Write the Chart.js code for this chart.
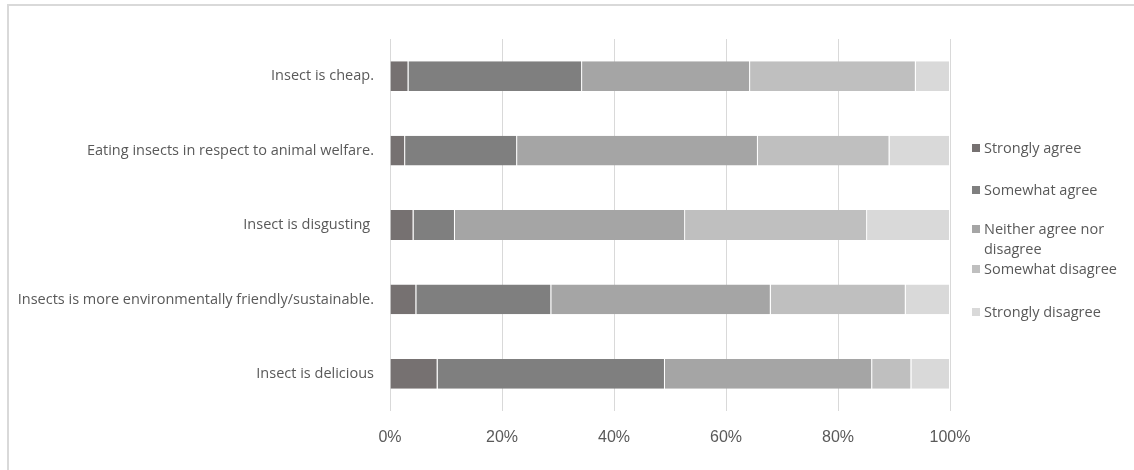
<!DOCTYPE html>
<html>
<head>
<meta charset="utf-8">
<script src="https://cdn.jsdelivr.net/npm/chart.js@4"></script>
<style>
	html, body { margin: 0; padding: 0; background: #fff; overflow: hidden; }
	#wrap { position: relative; width: 1134px; height: 470px; }
	#frame { position: absolute; left: 7px; top: 4px; width: 1140px; height: 480px; border-top: 2px solid #d9d9d9; border-left: 2px solid #d9d9d9; box-sizing: border-box; }
	#survey-chart { position: absolute; left: 0; top: 0; }
	#legend { position: absolute; left: 0; top: 0; font-family: "Open Sans", sans-serif; font-size: 14.5px; color: #595959; }
	#legend .item { position: absolute; left: 972px; width: 160px; line-height: 20px; padding-left: 12px; white-space: nowrap; }
	#legend .box { position: absolute; left: 0; top: 6px; width: 8px; height: 8px; }
</style>
</head>
<body>
<div id="wrap">
	<div id="frame"></div>
	<canvas id="survey-chart" width="1134" height="470"></canvas>
	<div id="legend"></div>
</div>
<script>
const categories = [
	"Insect is cheap.",
	"Eating insects in respect to animal welfare.",
	"Insect is disgusting ",
	"Insects is more environmentally friendly/sustainable.",
	"Insect is delicious",
];
const seriesNames = ["Strongly agree", "Somewhat agree", "Neither agree nor disagree", "Somewhat disagree", "Strongly disagree"];
const seriesColors = ["#767171", "#7f7f7f", "#a5a5a5", "#bfbfbf", "#d9d9d9"];

// percent of answers per statement
const stronglyAgree = [3.3, 2.7, 4.2, 4.7, 8.5];
const somewhatAgree = [31.0, 20.0, 7.4, 24.1, 40.6];
const neither = [30.0, 43.0, 41.1, 39.2, 37.0];
const somewhatDisagree = [29.6, 23.5, 32.5, 24.1, 7.0];
const stronglyDisagree = [6.1, 10.8, 14.8, 7.9, 6.9];

const xTicks = [0, 20, 40, 60, 80, 100];

// legend text lines and vertical spots (Excel wraps the long one)
const legendLines = [["Strongly agree"], ["Somewhat agree"], ["Neither agree nor", "disagree"], ["Somewhat disagree"], ["Strongly disagree"]];
const legendTops = [138, 180, 219, 259, 302];

const values = [stronglyAgree, somewhatAgree, neither, somewhatDisagree, stronglyDisagree];

const data = {
	labels: categories,
	datasets: seriesNames.map((name, i) => ({
		label: name,
		data: values[i],
		backgroundColor: seriesColors[i],
		borderColor: "rgba(255,255,255,0.45)",
		borderWidth: { left: 0, right: 1, top: 0, bottom: 0 },
		borderSkipped: false,
		barPercentage: 0.4,
		categoryPercentage: 1,
	})),
};

const surveyChart = new Chart(document.getElementById("survey-chart"), {
	type: "bar",
	data,
	options: {
		indexAxis: "y",
		responsive: false,
		animation: false,
		layout: { padding: { top: 39, right: 184, bottom: 0, left: 0 } },
		scales: {
			x: {
				stacked: true,
				min: 0,
				max: 100,
				afterBuildTicks: (scale) => {
					scale.ticks = xTicks.map((v) => ({ value: v }));
				},
				afterFit: (scale) => {
					scale.height = 59;
				},
				grid: { color: "#d9d9d9", lineWidth: 1, drawTicks: false },
				border: { display: false },
				ticks: {
					padding: 17,
					color: "#595959",
					font: { family: "Liberation Sans", size: 16 },
					callback: (v) => v + "%",
				},
			},
			y: {
				stacked: true,
				afterFit: (scale) => {
					scale.width = 390;
				},
				grid: { display: false },
				border: { display: false },
				ticks: {
					padding: 8,
					color: "#595959",
					font: { family: "Open Sans", size: 14.5 },
				},
			},
		},
		plugins: {
			legend: { display: false },
			tooltip: { enabled: false },
		},
	},
});

// html legend built from the chart's datasets
const legendBox = document.getElementById("legend");
surveyChart.data.datasets.forEach((ds, i) => {
	const item = document.createElement("div");
	item.className = "item";
	item.style.top = legendTops[i] + "px";
	const box = document.createElement("span");
	box.className = "box";
	box.style.background = ds.backgroundColor;
	item.appendChild(box);
	legendLines[i].forEach((line) => {
		const row = document.createElement("div");
		row.textContent = line;
		item.appendChild(row);
	});
	legendBox.appendChild(item);
});
</script>
</body>
</html>
